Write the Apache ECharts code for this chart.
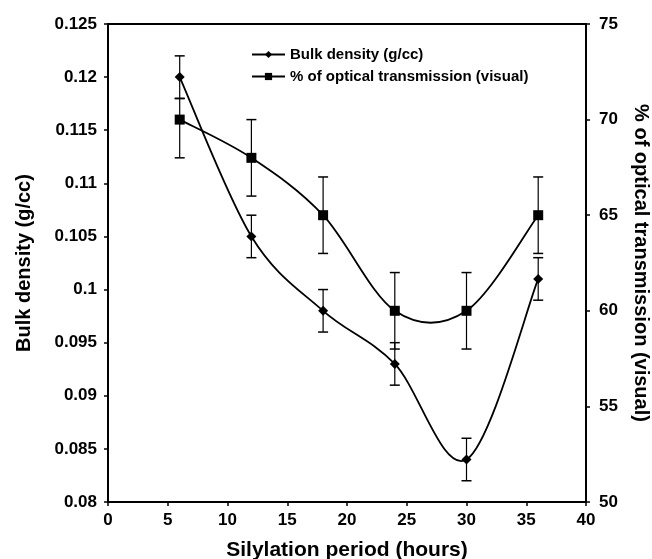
<!DOCTYPE html>
<html>
<head>
<meta charset="utf-8">
<script src="https://cdn.jsdelivr.net/npm/echarts@6/dist/echarts.min.js"></script>
<style>
  html, body { margin: 0; padding: 0; background: #fff; }
  #main { width: 652px; height: 559px; }
</style>
</head>
<body>
<div id="main"></div>
<script>
// silylation period (hours)
var hours = [6, 12, 18, 24, 30, 36];
// bulk density (g/cc) and its error (below / above)
var density = [0.120, 0.105, 0.098, 0.093, 0.084, 0.101];
var densityErrLow = [0.002, 0.002, 0.002, 0.002, 0.002, 0.002];
var densityErrHigh = [0.002, 0.002, 0.002, 0.002, 0.002, 0.002];
// % of optical transmission (visual) and its error (below / above)
var transmission = [70, 68, 65, 60, 60, 65];
var transmissionErrLow = [2, 2, 2, 2, 2, 2];
var transmissionErrHigh = [1.1, 2, 2, 2, 2, 2];

var FONT = 'Liberation Sans, Arial, sans-serif';

function pairs(xs, ys) {
  return xs.map(function (x, i) { return [x, ys[i]]; });
}
function errRows(xs, ys, lo, hi) {
  return xs.map(function (x, i) { return [x, ys[i] - lo[i], ys[i] + hi[i]]; });
}

// error bar: vertical line with caps
function renderErr(params, api) {
  var lo = api.coord([api.value(0), api.value(1)]);
  var hi = api.coord([api.value(0), api.value(2)]);
  var w = 5;
  return {
    type: 'group',
    children: [
      { type: 'line', shape: { x1: lo[0], y1: lo[1], x2: hi[0], y2: hi[1] }, style: { stroke: '#000', lineWidth: 1.2 } },
      { type: 'line', shape: { x1: lo[0] - w, y1: lo[1], x2: lo[0] + w, y2: lo[1] }, style: { stroke: '#000', lineWidth: 1.5 } },
      { type: 'line', shape: { x1: hi[0] - w, y1: hi[1], x2: hi[0] + w, y2: hi[1] }, style: { stroke: '#000', lineWidth: 1.5 } }
    ]
  };
}

// smoothed curve like a spreadsheet: one cardinal-spline segment per point
function curveRenderer(xs, ys) {
  return function (params, api) {
    var i = params.dataIndex;
    var n = xs.length;
    if (i >= n - 1) return null;
    var pt = function (k) {
      k = Math.max(0, Math.min(n - 1, k));
      return api.coord([xs[k], ys[k]]);
    };
    var p0 = pt(i - 1), p1 = pt(i), p2 = pt(i + 1), p3 = pt(i + 2);
    var t = 1 / 6;
    return {
      type: 'bezierCurve',
      shape: {
        x1: p1[0], y1: p1[1],
        x2: p2[0], y2: p2[1],
        cpx1: p1[0] + (p2[0] - p0[0]) * t, cpy1: p1[1] + (p2[1] - p0[1]) * t,
        cpx2: p2[0] - (p3[0] - p1[0]) * t, cpy2: p2[1] - (p3[1] - p1[1]) * t
      },
      style: { stroke: '#000', lineWidth: 1.8, fill: null }
    };
  };
}

var chart = echarts.init(document.getElementById('main'));

var axisLabelStyle = { color: '#000', fontFamily: FONT, fontWeight: 'bold', fontSize: 17 };
var nameStyle = { color: '#000', fontFamily: FONT, fontWeight: 'bold', fontSize: 20 };

var option = {
  backgroundColor: '#fff',
  animation: false,
  grid: {
    left: 108, right: 66, top: 24, bottom: 57,
    outerBoundsMode: 'none',
    show: true, borderColor: '#000', borderWidth: 2
  },
  legend: {
    orient: 'vertical',
    left: 246, top: 42,
    itemWidth: 33, itemHeight: 9,
    itemGap: 7,
    lineStyle: { color: '#000', width: 2, opacity: 1 },
    textStyle: { color: '#000', fontFamily: FONT, fontWeight: 'bold', fontSize: 15 },
    data: ['Bulk density (g/cc)', '% of optical transmission (visual)']
  },
  xAxis: {
    type: 'value',
    min: 0, max: 40, interval: 5,
    name: 'Silylation period (hours)',
    nameLocation: 'middle', nameGap: 38,
    nameTextStyle: Object.assign({}, nameStyle, { fontSize: 21 }),
    axisLine: { lineStyle: { color: '#000', width: 2 } },
    axisTick: { lineStyle: { color: '#000', width: 1.5 }, length: 4 },
    axisLabel: Object.assign({ margin: 10 }, axisLabelStyle),
    splitLine: { show: false }
  },
  yAxis: [
    {
      type: 'value',
      min: 0.08, max: 0.125, interval: 0.005,
      name: 'Bulk density (g/cc)',
      nameLocation: 'middle', nameGap: 74, nameRotate: 90,
      nameTextStyle: nameStyle,
      axisLine: { show: true, lineStyle: { color: '#000', width: 2 } },
      axisTick: { show: true, lineStyle: { color: '#000', width: 1.5 }, length: 4 },
      axisLabel: Object.assign({ margin: 11 }, axisLabelStyle),
      splitLine: { show: false }
    },
    {
      type: 'value',
      position: 'right',
      min: 50, max: 75, interval: 5,
      name: '% of optical transmission (visual)',
      nameLocation: 'middle', nameGap: 45, nameRotate: -90,
      nameTextStyle: nameStyle,
      axisLine: { show: true, lineStyle: { color: '#000', width: 2 } },
      axisTick: { show: true, lineStyle: { color: '#000', width: 1.5 }, length: 4 },
      axisLabel: Object.assign({ margin: 13 }, axisLabelStyle),
      splitLine: { show: false }
    }
  ],
  series: [
    {
      name: 'Bulk density (g/cc)',
      type: 'line',
      yAxisIndex: 0,
      symbol: 'diamond', symbolSize: 10,
      itemStyle: { color: '#000' },
      lineStyle: { color: '#000', width: 0, opacity: 0 },
      data: pairs(hours, density),
      z: 4
    },
    {
      name: '% of optical transmission (visual)',
      type: 'line',
      yAxisIndex: 1,
      symbol: 'rect', symbolSize: 10,
      itemStyle: { color: '#000' },
      lineStyle: { color: '#000', width: 0, opacity: 0 },
      data: pairs(hours, transmission),
      z: 4
    },
    {
      type: 'custom',
      yAxisIndex: 0,
      renderItem: curveRenderer(hours, density),
      data: pairs(hours, density),
      z: 3
    },
    {
      type: 'custom',
      yAxisIndex: 1,
      renderItem: curveRenderer(hours, transmission),
      data: pairs(hours, transmission),
      z: 3
    },
    {
      type: 'custom',
      yAxisIndex: 0,
      renderItem: renderErr,
      data: errRows(hours, density, densityErrLow, densityErrHigh),
      z: 2
    },
    {
      type: 'custom',
      yAxisIndex: 1,
      renderItem: renderErr,
      data: errRows(hours, transmission, transmissionErrLow, transmissionErrHigh),
      z: 2
    }
  ]
};

chart.setOption(option);
</script>
</body>
</html>
